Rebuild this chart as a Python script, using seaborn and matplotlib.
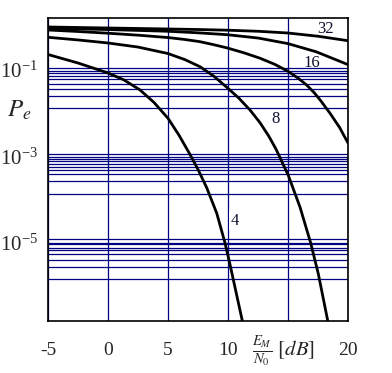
import numpy as np
import pandas as pd
import matplotlib
matplotlib.use("Agg")
import matplotlib.pyplot as plt
import matplotlib.ticker as mticker
import seaborn as sns

# ---- data (E_M/N0 in dB, Pe) ----
x_c4 = [-5, -2.5, 0, 1.33, 2.67, 3.83, 5, 5.9, 6.83, 7.5, 8.22, 9.06, 9.75, 10.17, 11.19]
pe_c4 = [0.228, 0.145, 0.0853, 0.0589, 0.0345, 0.0178, 0.00764, 0.00316, 0.00112,
         5.01e-4, 1.91e-4, 4.90e-5, 1.00e-5, 3.16e-6, 1.60e-7]

x_c8 = [-5, -2.5, 0, 2.5, 5, 6.4, 7.67, 8.8, 9.92, 10.9, 11.83, 12.67, 13.4, 14,
        15.03, 16, 16.89, 17.53, 18.31]
pe_c8 = [0.570, 0.495, 0.421, 0.339, 0.240, 0.174, 0.119, 0.0724, 0.0394, 0.0224,
         0.0119, 0.00603, 0.00295, 0.00148, 3.63e-4, 6.76e-5, 1.00e-5, 1.91e-6, 1.60e-7]

x_c16 = [-5, -2.5, 0, 2.5, 5, 6.4, 7.67, 8.8, 9.92, 11.3, 12.67, 13.9, 15, 15.8,
         16.56, 17.2, 17.75, 18.5, 19.3, 20]
pe_c16 = [0.841, 0.776, 0.708, 0.638, 0.562, 0.507, 0.451, 0.385, 0.324, 0.251,
          0.187, 0.135, 0.0933, 0.0661, 0.0447, 0.0295, 0.0191, 0.0100, 0.00468, 0.00205]

x_c32 = [-5, 0, 5, 7.5, 9.92, 12.53, 15, 17.36, 20]
pe_c32 = [0.923, 0.861, 0.785, 0.724, 0.655, 0.547, 0.407, 0.263, 0.133]

x_top = [-5, 0, 5, 7.5, 9.92, 12.53, 15, 17.53, 20]
pe_top = [0.986, 0.935, 0.887, 0.863, 0.832, 0.785, 0.716, 0.601, 0.475]

curve_labels = ["4", "8", "16", "32"]
label_x = [10.53, 13.96, 16.97, 18.08]
label_pe = [10 ** -4.487, 10 ** -2.144, 10 ** -0.827, 10 ** -0.047]

x_ticks = [-5, 0, 5, 10, 15, 20]
x_ticklabels = ["-5", "0", "5", "10", "", "20"]
y_ticks = [1e-1, 1e-3, 1e-5]
# exponents of the horizontal blue grid lines
grid_exp = [-0.961, -1.023, -1.076, -1.139, -1.215, -1.331, -1.449, -1.597, -1.888,
            -2.949, -3.005, -3.058, -3.111, -3.164, -3.235, -3.312, -3.405, -3.566, -3.874,
            -4.914, -5.006, -5.030, -5.111, -5.173, -5.254, -5.393, -5.562, -5.839]

frames = []
for name, xs, ps in [("c4", x_c4, pe_c4), ("c8", x_c8, pe_c8), ("c16", x_c16, pe_c16),
                     ("c32", x_c32, pe_c32), ("top", x_top, pe_top)]:
    frames.append(pd.DataFrame({"EM_N0": xs, "Pe": ps, "curve": name}))
df = pd.concat(frames, ignore_index=True)

sns.set_style("white")
plt.rcParams["font.family"] = ["Liberation Serif", "DejaVu Serif"]
plt.rcParams["mathtext.fontset"] = "stix"
plt.rcParams["axes.unicode_minus"] = False

fig = plt.figure(figsize=(3.92, 3.73), dpi=100)
ax = fig.add_axes([48 / 392, 1 - 320.7 / 373, 300 / 392, (320.7 - 18.3) / 373])
ax.set_yscale("log")

navy = "#000080"
ax.set_xticks(x_ticks)
ax.set_xticklabels(x_ticklabels)
ax.set_yticks(y_ticks)
ax.yaxis.set_major_formatter(mticker.LogFormatterMathtext())
ax.yaxis.set_minor_locator(mticker.FixedLocator([10 ** e for e in grid_exp]))
ax.yaxis.set_minor_formatter(mticker.NullFormatter())
ax.grid(True, axis="x", which="major", color=navy, linewidth=0.9)
ax.grid(True, axis="y", which="minor", color=navy, linewidth=0.9)
ax.grid(False, axis="y", which="major")
ax.set_axisbelow(True)

sns.lineplot(data=df, x="EM_N0", y="Pe", hue="curve", palette=["black"] * 5,
             legend=False, estimator=None, sort=False, linewidth=2.0, ax=ax)

ax.set_xlim(-5, 20)
ax.set_ylim(10 ** -6.797, 10 ** 0.195)
ax.set_xlabel("")
ax.set_ylabel("")

ax.tick_params(axis="x", which="both", length=0, pad=15, labelsize=14)
ax.tick_params(axis="y", which="both", length=0, pad=7, labelsize=15)
for s in ax.spines.values():
    s.set_color("black")
    s.set_linewidth(1.2)

for t, xv, pv in zip(curve_labels, label_x, label_pe):
    kw = {}
    if t == "4":
        kw["bbox"] = dict(facecolor="white", edgecolor="none", pad=1.0)
    ax.text(xv, pv, t, fontsize=12, ha="center", va="center", color="#101030", **kw)

fig.text(19 / 392, 1 - 110 / 373, r"$P_e$", fontsize=18, ha="center", va="center")
fig.text(283 / 392, 1 - 352 / 373, r"$\frac{E_M}{N_0}\ [dB]$", fontsize=15,
         ha="center", va="center")

fig.savefig("out.png", dpi=100, facecolor="white")
